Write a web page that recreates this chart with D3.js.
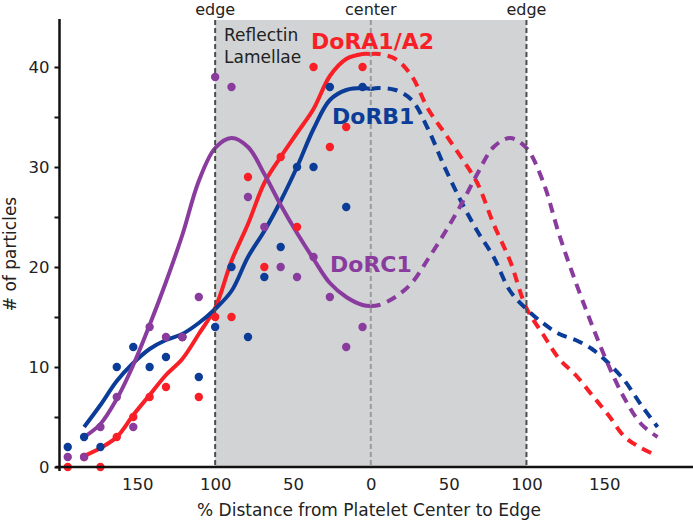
<!DOCTYPE html>
<html><head><meta charset="utf-8">
<script src="https://cdn.jsdelivr.net/npm/d3@7"></script>
<style>body{margin:0;background:#fff}svg{display:block}text{font-family:"DejaVu Sans",sans-serif}</style>
</head><body><svg id="c" width="693" height="522"></svg>
<script>
// ---- data ----
const binX = [-194.7,-184.2,-173.7,-163.2,-152.6,-142.1,-131.6,-121.1,-110.5,-100,-89.5,-78.9,-68.4,-57.9,-47.4,-36.8,-26.3,-15.8,-5.3];
const dotsRA = [0,1,0,3,5,7,8,13,7,15,15,29,20,31,24,40,32,34,40];
const dotsRB = [2,3,2,10,12,10,11,13,9,14,20,13,19,22,30,30,38,26,38];
const dotsRC = [1,1,4,7,4,14,13,13,17,39,38,27,24,20,19,21,17,12,14];
const fitX  = [-184.2,-173.7,-163.2,-152.6,-142.1,-131.6,-121.1,-110.5,-100,-89.5,-78.9,-68.4,-57.9,-47.4,-36.8,-26.3,-15.8,-5.3,0];
const fitRA = [1.1,1.9,3,5.2,7.2,9.2,10.8,13.3,15.9,20.6,24.3,28.4,31,33.4,35.8,39.1,40.8,41.3,41.3];
const fitRB = [4,6.2,8.6,10.4,11.8,12.7,13.3,14.4,15.8,17.6,21,23.6,26.6,30,33.8,36.7,37.7,37.9,37.8];
const fitRC = [3,4.3,6.8,10.2,14.2,18.5,23.2,28.6,31.9,32.9,32.0,29.3,26.2,23.4,20.8,18.4,17,16.2,16.1];
const xTicks = [-150,-100,-50,0,50,100,150];
const yTicks = [0,10,20,30,40];
const yMinor = [5,15,25,35];

const series = [
  {name:"DoRA1/A2", color:"#f81f26", dots:dotsRA, fit:fitRA},
  {name:"DoRB1",    color:"#0b3c98", dots:dotsRB, fit:fitRB},
  {name:"DoRC1",    color:"#8a3c9e", dots:dotsRC, fit:fitRC}
];

const svg = d3.select("#c");
const x = d3.scaleLinear().domain([-200,207]).range([59.5,693]);
const y = d3.scaleLinear().domain([0,44.8]).range([467,19]);

// shaded lamellae region
svg.append("rect").attr("x",x(-100)).attr("y",y(44.7)).attr("width",x(100)-x(-100))
  .attr("height",y(0)-y(44.7)).attr("fill","#d1d3d4");

const line = d3.line().x(d=>x(d[0])).y(d=>y(d[1])).curve(d3.curveCatmullRom.alpha(0.5));

// fits (solid left half, dashed mirrored right half)
series.forEach(s=>{
  const pts = fitX.map((v,i)=>[v,s.fit[i]]);
  const mir = pts.map(p=>[-p[0],p[1]]).reverse();
  svg.append("path").attr("d",line(mir)).attr("fill","none").attr("stroke",s.color)
    .attr("stroke-width",4).attr("stroke-dasharray","10,7");
});
series.forEach(s=>{
  const pts = fitX.map((v,i)=>[v,s.fit[i]]);
  svg.append("path").attr("d",line(pts)).attr("fill","none").attr("stroke",s.color)
    .attr("stroke-width",4);
});

// vertical markers
[[-100,"#4d4d4f"],[0,"#9a9a9c"],[100,"#4d4d4f"]].forEach(([v,c])=>{
  svg.append("line").attr("x1",x(v)).attr("x2",x(v)).attr("y1",y(44.7)).attr("y2",y(0))
    .attr("stroke",c).attr("stroke-width",2).attr("stroke-dasharray","5,3");
});

// dots
series.forEach(s=>{
  svg.append("g").selectAll("circle").data(s.dots).join("circle")
    .attr("cx",(d,i)=>x(binX[i])).attr("cy",d=>y(d)).attr("r",4.2).attr("fill",s.color);
});

// axes
const yAxis = svg.append("g").attr("transform",`translate(${x(-200)},0)`)
  .call(d3.axisLeft(y).tickValues(yTicks).tickSize(5).tickPadding(5).tickFormat(d3.format("d")));
svg.append("g").attr("transform",`translate(${x(-200)},0)`)
  .call(d3.axisLeft(y).tickValues(yMinor).tickSize(5).tickFormat(""))
  .call(g=>g.select(".domain").remove());
yAxis.select(".domain").attr("d",`M0,${y(44.8)}V${y(0)+4}`);
const xAxis = svg.append("g").attr("transform",`translate(0,${y(0)})`)
  .call(d3.axisBottom(x).tickValues(xTicks).tickSize(0).tickPadding(11).tickFormat(d=>Math.abs(d)));
xAxis.select(".domain").attr("d",`M${x(-200)-4},0H693`);
svg.selectAll(".domain").attr("stroke","#111").attr("stroke-width",2.5);
svg.selectAll(".tick line").attr("stroke","#111").attr("stroke-width",2);
svg.selectAll(".tick text").attr("font-size",16.5).attr("fill","#222")
  .attr("font-family","'DejaVu Sans',sans-serif");

// axis titles
svg.append("text").attr("x",369).attr("y",516).attr("text-anchor","middle")
  .attr("font-size",17).attr("fill","#222").text("% Distance from Platelet Center to Edge");
svg.append("text").attr("transform","translate(16,254) rotate(-90)").attr("text-anchor","middle")
  .attr("font-size",17).attr("fill","#222").text("# of particles");

// top labels
[[-100,"edge"],[0,"center"],[100,"edge"]].forEach(([v,t])=>{
  svg.append("text").attr("x",x(v)).attr("y",15).attr("text-anchor","middle")
    .attr("font-size",16).attr("fill","#222").text(t);
});
svg.append("text").attr("x",224).attr("y",41).attr("font-size",17).attr("fill","#222").text("Reflectin");
svg.append("text").attr("x",224).attr("y",63).attr("font-size",17).attr("fill","#222").text("Lamellae");

// series labels
const lab = [[0,311,49],[1,332,124],[2,330,272]];
lab.forEach(([i,lx,ly])=>{
  svg.append("text").attr("x",lx).attr("y",ly).attr("font-size",22).attr("font-weight","bold")
    .attr("fill",series[i].color).text(series[i].name);
});
</script></body></html>
